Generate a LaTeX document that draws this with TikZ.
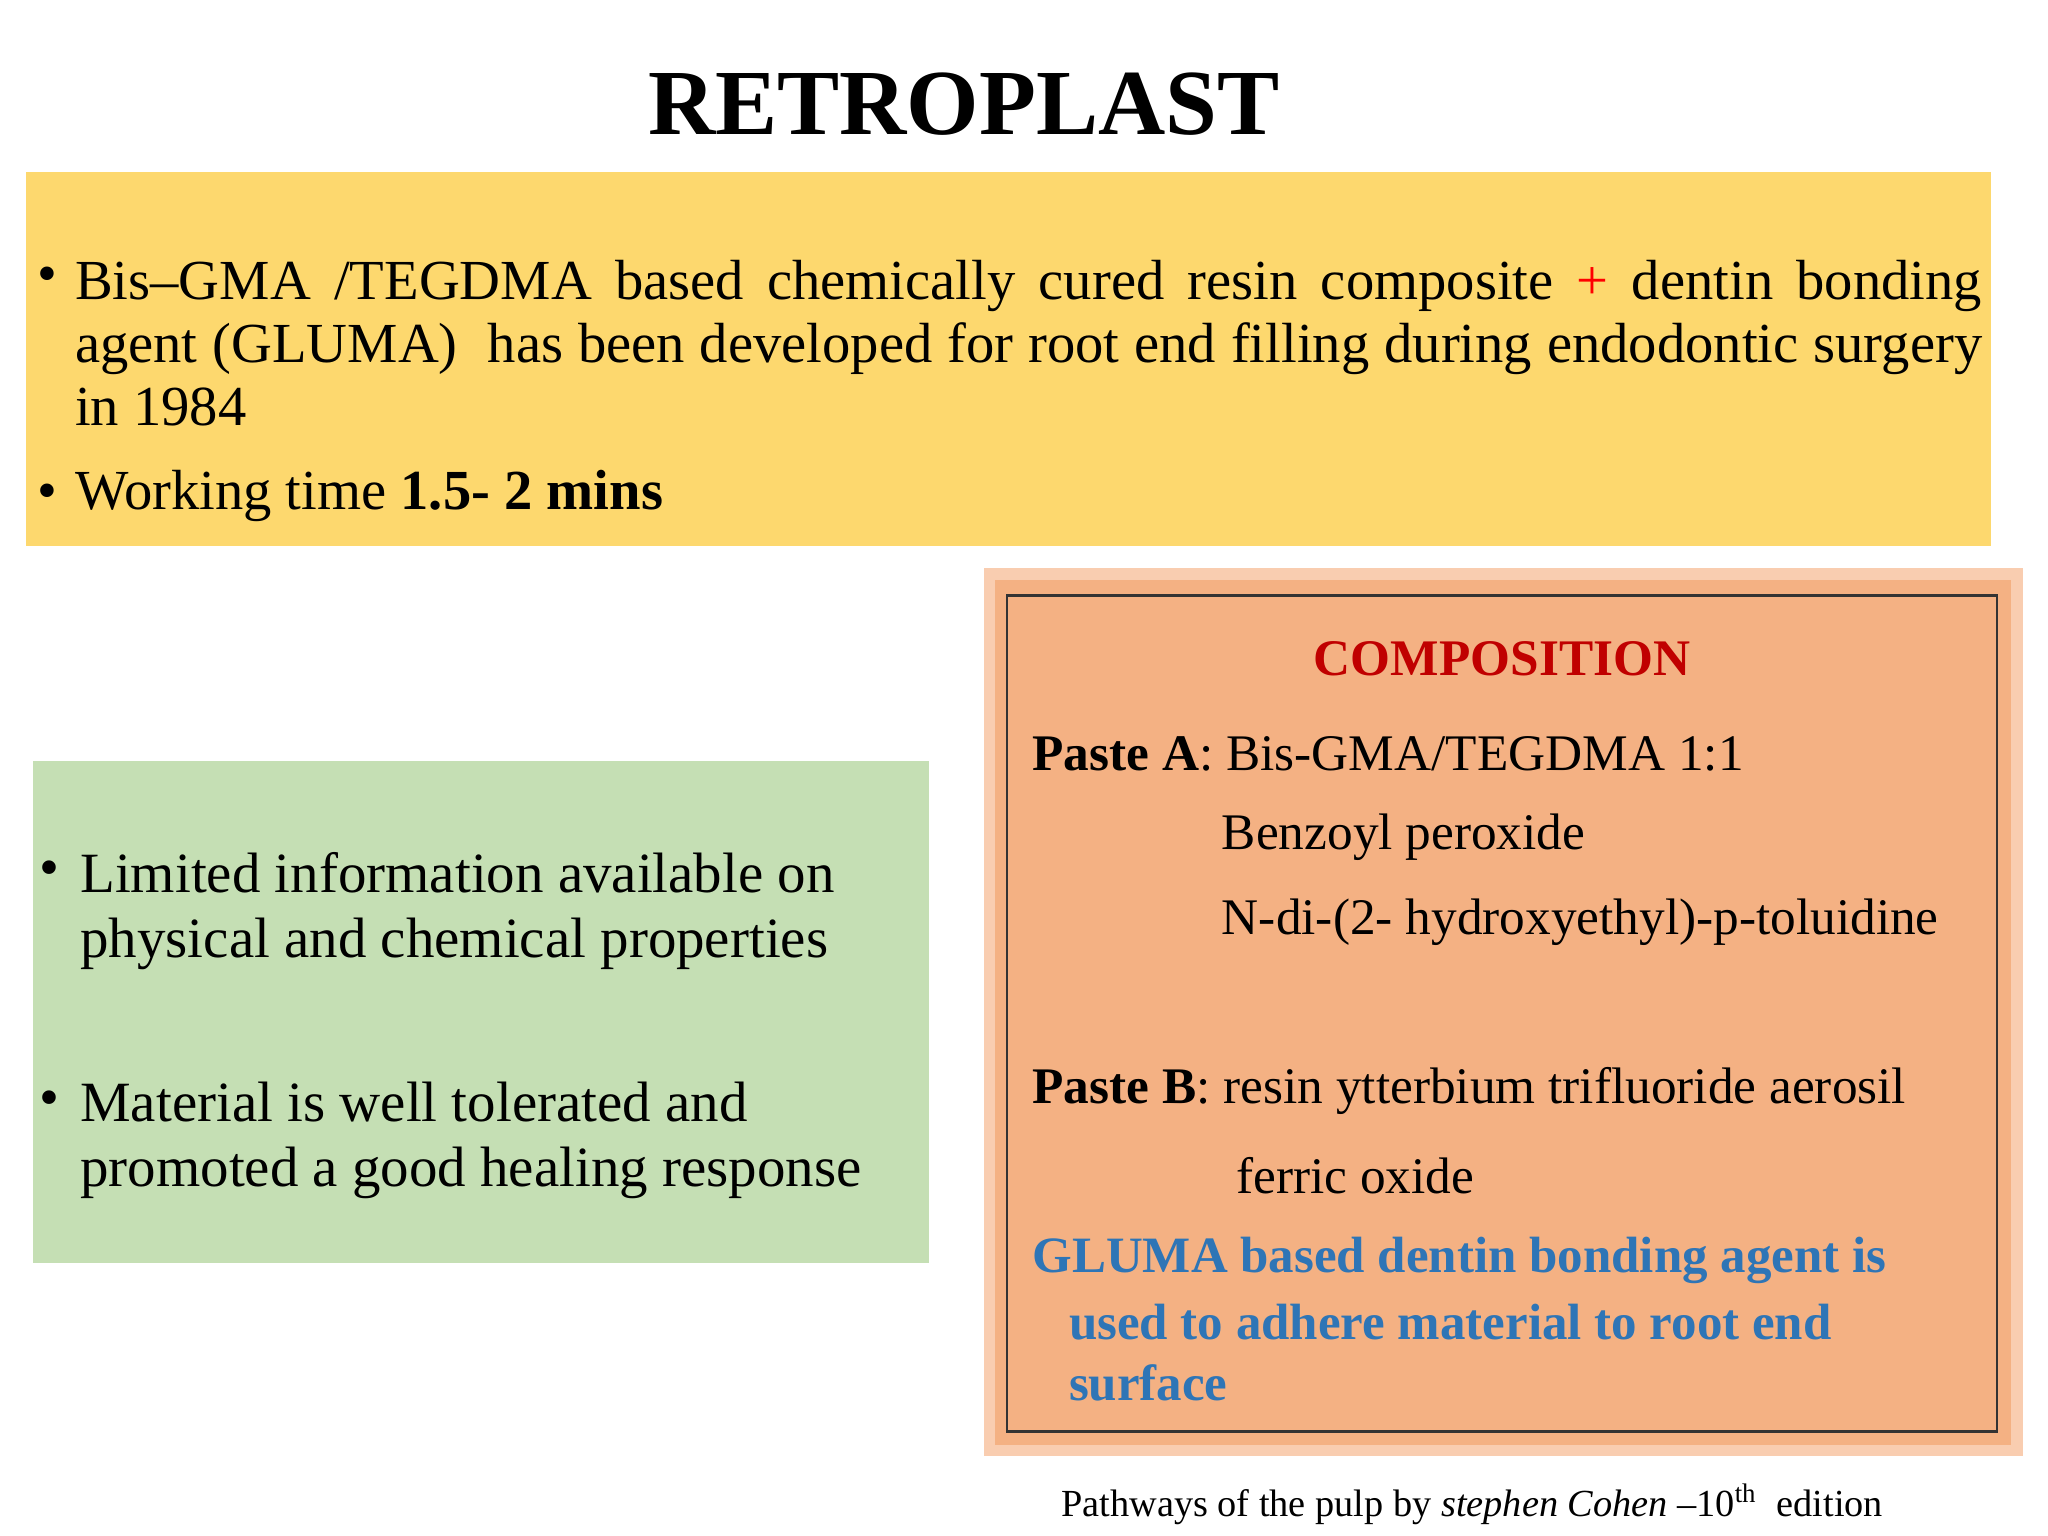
\documentclass[tikz,border=0pt]{standalone}
\usepackage{fontspec}
\setmainfont{Liberation Serif}
\definecolor{yel}{HTML}{FDD86E}
\definecolor{grn}{HTML}{C5DFB4}
\definecolor{org}{HTML}{F4B183}
\definecolor{orgl}{HTML}{F9CDB0}
\definecolor{dred}{HTML}{C00000}
\definecolor{blu}{HTML}{2E75B6}
\begin{document}
\begin{tikzpicture}[x=0.013061cm,y=-0.013061cm,
  body/.style={inner sep=0pt,font=\fontsize{16.1}{17.9}\selectfont},
  comp/.style={inner sep=0pt,anchor=west,font=\fontsize{14.6}{16}\selectfont}]
\useasboundingbox (0,0) rectangle (1568,1176);
\node[inner sep=0pt,font=\fontsize{26.5}{30}\selectfont\bfseries] (title) at (738,80) {RETROPLAST};
% yellow
\fill[yel] (20,132) rectangle (1524,418);
\node[body,anchor=west] (b1) at (28,214) {•};
\node[body,anchor=north west,text width=19.07cm,align=justify] (t1) at (57,199)
 {Bis–GMA /TEGDMA based chemically cured resin composite {\color{red}+} dentin bonding agent (GLUMA)\ \ has been developed for root end filling during endodontic surgery in 1984};
\node[body,anchor=west] (b2) at (28,380) {•};
\node[body,anchor=west] (t2) at (57,380) {Working time \textbf{1.5- 2 mins}};
% green
\fill[grn] (25,583) rectangle (711,967);
\node[body,anchor=west,font=\fontsize{16.2}{18}\selectfont] (g1b) at (30,669) {•};
\node[body,anchor=north west,align=left,font=\fontsize{16.2}{18.4}\selectfont] (g1) at (61,652) {Limited information available on\\physical and chemical properties};
\node[body,anchor=west,font=\fontsize{16.2}{18}\selectfont] (g2b) at (30,845) {•};
\node[body,anchor=north west,align=left,font=\fontsize{16.2}{18.4}\selectfont] (g2) at (61,828) {Material is well tolerated and\\promoted a good healing response};
% orange
\fill[orgl] (753,435) rectangle (1549,1115);
\fill[org] (762,444) rectangle (1540,1106);
\draw[line width=0.8pt,black!80] (771,456) rectangle (1529,1096);
\node[inner sep=0pt,font=\fontsize{14.6}{16}\selectfont\bfseries,text=dred] (ct) at (1150,504) {COMPOSITION};
\node[comp] (pa) at (790,577) {\textbf{Paste A}: Bis-GMA/TEGDMA 1:1};
\node[comp] (pa2) at (935,641) {Benzoyl peroxide};
\node[comp] (pa3) at (935,706) {N-di-(2- hydroxyethyl)-p-toluidine};
\node[comp] (pb) at (790,835) {\textbf{Paste B}: resin ytterbium trifluoride aerosil};
\node[comp] (pb2) at (946,900) {ferric oxide};
\node[comp,font=\fontsize{14.5}{16}\selectfont\bfseries,text=blu] (gl1) at (790,965) {GLUMA based dentin bonding agent is};
\node[comp,font=\fontsize{14.5}{16}\selectfont\bfseries,text=blu] (gl2) at (818,1012) {used to adhere material to root end};
\node[comp,font=\fontsize{14.5}{16}\selectfont\bfseries,text=blu] (gl3) at (818,1059) {surface};
\node[inner sep=0pt,anchor=west,font=\fontsize{10.9}{12}\selectfont] (ft) at (812,1152) {Pathways of the pulp by \textit{stephen Cohen} –10\textsuperscript{th}\ \ edition};
\end{tikzpicture}
\end{document}
